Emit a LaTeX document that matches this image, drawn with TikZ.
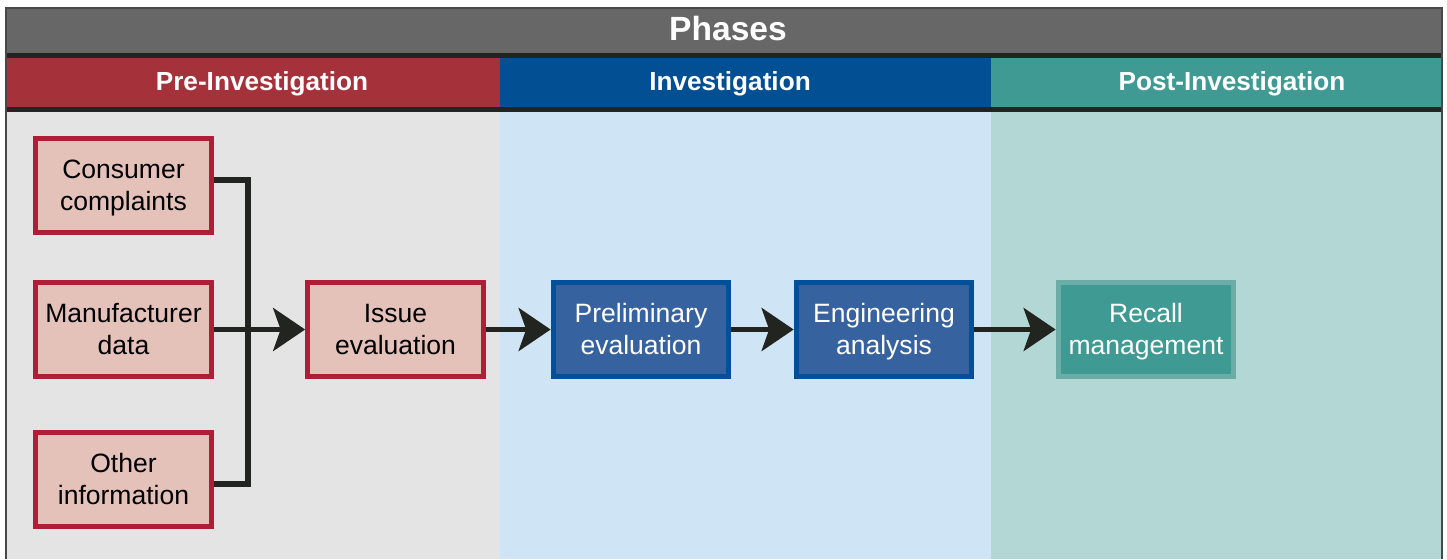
\documentclass[tikz,border=0pt]{standalone}
\usepackage{fontspec}
\setmainfont{Liberation Sans}
\usepackage{xcolor}
\usepackage{tikz}
\usetikzlibrary{positioning,arrows.meta}

\definecolor{phasegray}{HTML}{676767}
\definecolor{barline}{HTML}{222421}
\definecolor{prered}{HTML}{A5323B}
\definecolor{invblue}{HTML}{034F93}
\definecolor{postteal}{HTML}{3E9A92}
\definecolor{prebg}{HTML}{E4E4E4}
\definecolor{invbg}{HTML}{CFE4F4}
\definecolor{postbg}{HTML}{B3D7D5}
\definecolor{redline}{HTML}{AE1F37}
\definecolor{redfill}{HTML}{E4C1B9}
\definecolor{bluefill}{HTML}{3762A0}
\definecolor{blueline}{HTML}{03509A}
\definecolor{tealline}{HTML}{6BACA7}
\definecolor{arrowdark}{HTML}{222420}

\begin{document}
\begin{tikzpicture}[
            x=0.02cm, y=-0.02cm,
            title/.style={anchor=base, text=white, font=\fontsize{19.1}{22}\selectfont\bfseries},
            head/.style={anchor=base, text=white, font=\fontsize{14.9}{18}\selectfont\bfseries},
            box/.style={rectangle, line width=3pt, minimum width=3.51cm, minimum height=1.87cm,
                align=center, inner sep=0pt, text height=33pt, text depth=5pt,
                font=\fontsize{15.1}{18.1}\selectfont},
            redbox/.style={box, draw=redline, fill=redfill, text=black},
            bluebox/.style={box, draw=blueline, fill=bluefill, text=white},
            tealbox/.style={box, draw=tealline, fill=postteal, text=white},
            link/.style={draw=arrowdark, line width=3pt},
            flow/.style={link, -{Stealth[length=0.64cm, width=0.86cm, inset=0.15cm]}}
        ]
            \useasboundingbox (0,0) rectangle (1447,559);
            % Columns
            \fill[prebg] (6,112) rectangle (500,559);
            \fill[invbg] (500,112) rectangle (991,559);
            \fill[postbg] (991,112) rectangle (1442,559);
            % Bars
            \fill[phasegray] (6,8) rectangle (1442,53);
            \fill[barline] (6,53) rectangle (1442,58);
            \fill[prered] (6,58) rectangle (500,107);
            \fill[invblue] (500,58) rectangle (991,107);
            \fill[postteal] (991,58) rectangle (1442,107);
            \fill[barline] (6,107) rectangle (1442,112);
            \draw[phasegray!70!black, line width=1pt] (6,559) -- (6,8) -- (1442,8) -- (1442,559);
            % Headings
            \node[title] (phases) at (728,40) {Phases};
            \node[head] (pre) at (262,90.5) {Pre-Investigation};
            \node[head] (inv) at (730,90.5) {Investigation};
            \node[head] (post) at (1232,90.5) {Post-Investigation};
            % Boxes
            \node[redbox] (cc) at (123.5,185.5) {Consumer\\complaints};
            \node[redbox] (md) at (123.5,329.5) {Manufacturer\\data};
            \node[redbox] (oi) at (123.5,479.5) {Other\\information};
            \node[redbox] (ie) at (395.5,329.5) {Issue\\evaluation};
            \node[bluebox] (pe) at (641,329.5) {Preliminary\\evaluation};
            \node[bluebox] (ea) at (884,329.5) {Engineering\\analysis};
            \node[tealbox] (rm) at (1146,329.5) {Recall\\management};
            \coordinate (bus) at (248,329.5);
            % Edges
            \draw[link] ([yshift=0.11cm]cc.east) -| (bus); % complaints
            \draw[link] ([yshift=-0.09cm]oi.east) -| (bus); % other information
            \draw[flow] (md) -- (ie);
            \draw[flow] (ie) -- (pe);
            \draw[flow] (pe) -- (ea);
            \draw[flow] (ea) -- (rm);
        \end{tikzpicture}
\end{document}
